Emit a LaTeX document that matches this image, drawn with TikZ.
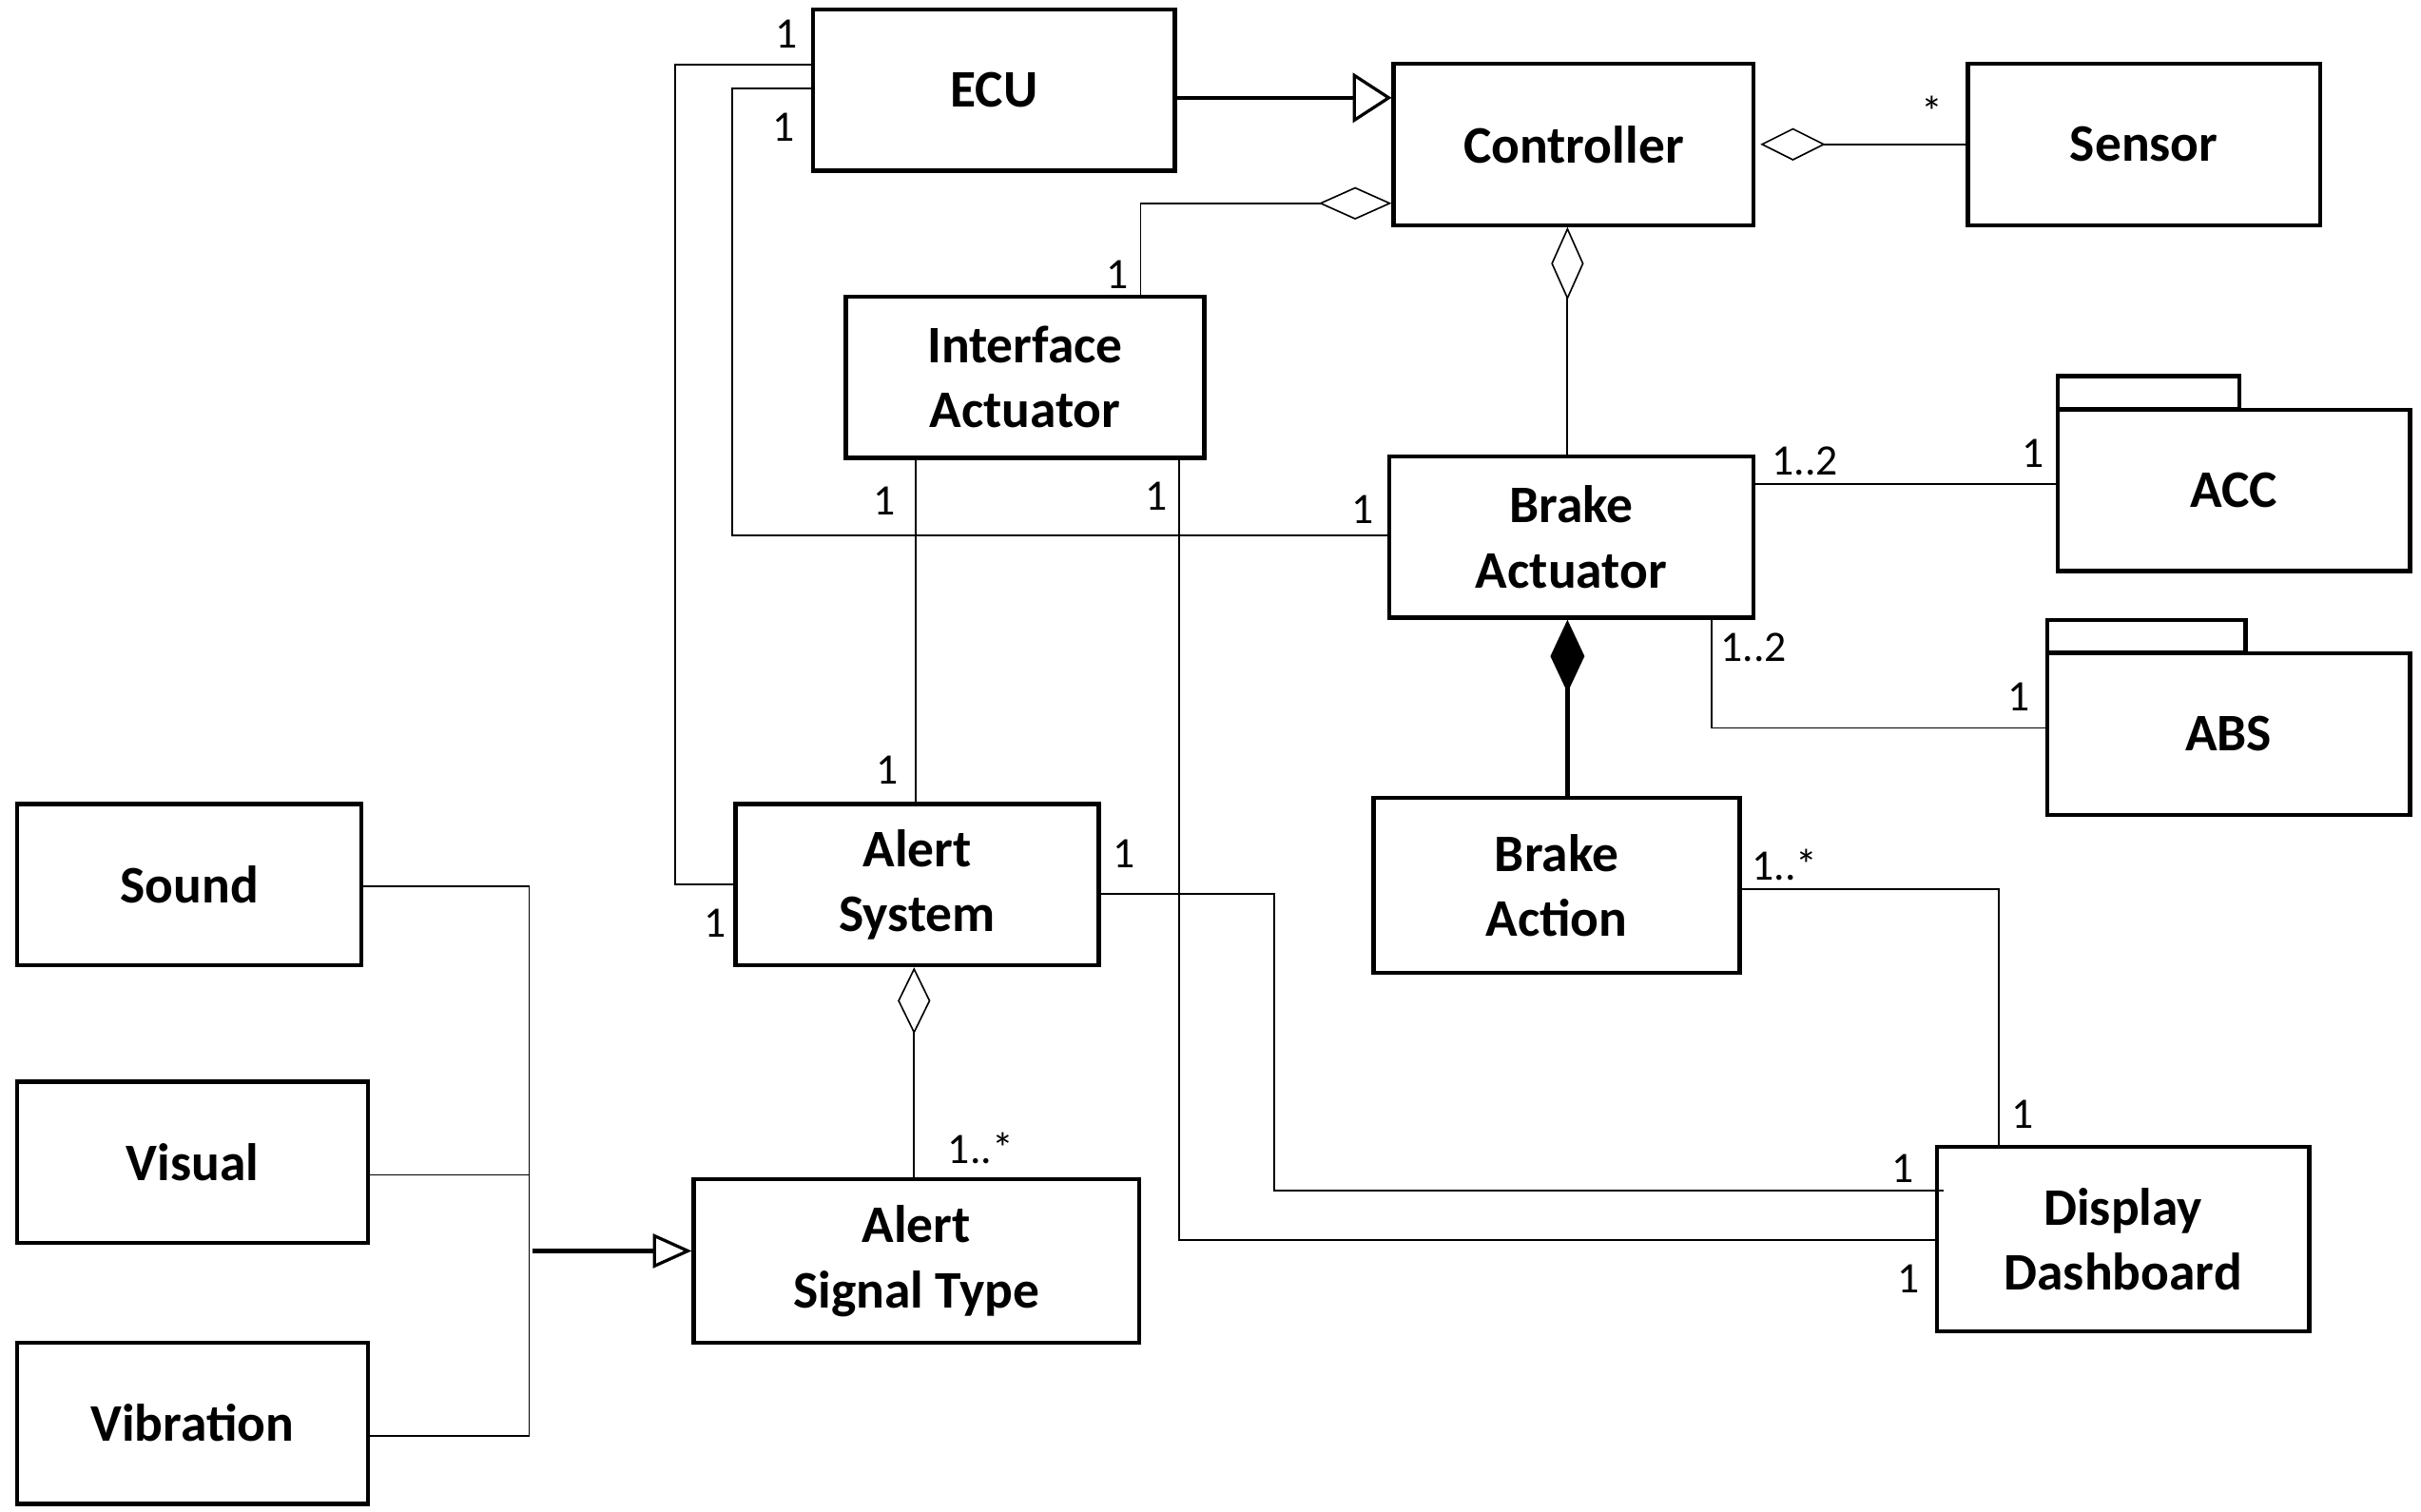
\documentclass[tikz,border=0pt]{standalone}
\usepackage{fontspec}
\setmainfont{Carlito}
\usetikzlibrary{arrows.meta,calc}
\newcommand{\boxfont}{\fontsize{34}{42}\selectfont\bfseries}
\newcommand{\multfont}{\fontsize{28}{30}\selectfont}
\begin{document}
\begin{tikzpicture}[x=1pt,y=-1pt,
  box/.style={draw, line width=2.6pt, align=center, inner sep=0pt, font=\boxfont},
  tabbox/.style={draw, line width=2.6pt, inner sep=0pt},
  assoc/.style={line width=1.1pt},
  genl/.style={line width=2.6pt, -{Triangle[open,length=25pt,width=#1,line width=2pt]}},
  aggr/.style={line width=1.1pt, -{Diamond[open,length=#1,width=21pt,line width=1pt]}},
  comp/.style={line width=2.6pt, -{Diamond[length=47pt,width=22pt]}},
  mult/.style={font=\multfont, inner sep=0pt}]
\useasboundingbox (0,0) rectangle (1560,974.2);

% classes
\node[box, minimum width=233pt, minimum height=104pt] (ecu) at (640.5,58) {ECU};
\node[box, minimum width=232pt, minimum height=104pt] (ctrl) at (1014,93) {Controller};
\node[box, minimum width=227pt, minimum height=104pt] (sensor) at (1381.5,93) {Sensor};
\node[box, minimum width=231pt, minimum height=104pt] (ia) at (660.5,243) {Interface\\Actuator};
\node[box, minimum width=235pt, minimum height=104pt] (ba) at (1012.5,346) {Brake\\Actuator};
\node[box, minimum width=227pt, minimum height=104pt] (acc) at (1439.5,316) {ACC};
\node[tabbox, minimum width=117pt, minimum height=21pt, anchor=south west] (acctab) at ([yshift=-2pt]acc.north west) {};
\node[box, minimum width=234pt, minimum height=104pt] (abs) at (1436,473) {ABS};
\node[tabbox, minimum width=128pt, minimum height=21pt, anchor=south west] (abstab) at ([yshift=-2pt]abs.north west) {};
\node[box, minimum width=234pt, minimum height=104pt] (as) at (591,570) {Alert\\System};
\node[box, minimum width=236pt, minimum height=113pt] (bact) at (1003,570.5) {Brake\\Action};
\node[box, minimum width=222pt, minimum height=104pt] (sound) at (122,570) {Sound};
\node[box, minimum width=226pt, minimum height=104pt] (visual) at (124,749) {Visual};
\node[box, minimum width=226pt, minimum height=104pt] (vib) at (124,917) {Vibration};
\node[box, minimum width=287pt, minimum height=105pt] (ast) at (590.5,812.5) {Alert\\Signal Type};
\node[box, minimum width=240pt, minimum height=119pt] (dd) at (1368,798.5) {Display\\Dashboard};

% ECU generalizes Controller
\draw[genl=32pt] (ecu.east |- 0,63) -- (ctrl.west |- 0,63);

% Sensor aggregated in Controller
\draw[aggr=42pt] (sensor.west) -- ([xshift=3pt]ctrl.east);
\node[mult] at (1245,72) {*};

% Interface Actuator aggregated in Controller
\draw[aggr=47pt] (735,0 |- ia.north) |- (ctrl.west |- 0,131);
\node[mult] at (720,177) {1};

% Brake Actuator aggregated in Controller
\draw[aggr=47pt] (1010,0 |- ba.north) -- (1010,0 |- ctrl.south);

% ECU -- Brake Actuator
\coordinate (c1) at (472,345);
\draw[assoc] (ecu.west |- 0,57) -| (c1) -- (ba.west |- c1);
\node[mult] at (505,82) {1};
\node[mult] at (878,328) {1};

% ECU -- Alert System
\coordinate (c2) at (435,570);
\draw[assoc] (ecu.west |- 0,41.5) -| (c2) -- (as.west |- c2);
\node[mult] at (507,22) {1};
\node[mult] at (461,595) {1};

% Interface Actuator -- Alert System
\draw[assoc] (590,0 |- ia.south) -- (590,0 |- as.north);
\node[mult] at (570,323) {1};
\node[mult] at (572,496) {1};

% Interface Actuator -- Display Dashboard
\draw[assoc] (760,0 |- ia.south) |- (dd.west |- 0,799);
\node[mult] at (745,320) {1};
\node[mult] at (1230,824) {1};

% Alert System -- Display Dashboard
\coordinate (c3) at (821,576);
\draw[assoc] (as.east |- c3) -- (c3) |- ([xshift=6pt]dd.west |- 0,767);
\node[mult] at (724,550) {1};
\node[mult] at (1226,753) {1};

% Brake Action -- Display Dashboard
\coordinate (c4) at (1288,573);
\draw[assoc] (bact.east |- c4) -- (c4) -- (c4 |- dd.north);
\node[mult] at (1150,557) {1..*};
\node[mult] at (1303,718) {1};

% Brake Action composed in Brake Actuator
\draw[comp] (1010,0 |- bact.north) -- (1010,0 |- ba.south);

% Brake Actuator -- ACC
\draw[assoc] (ba.east |- 0,312) -- (acc.west |- 0,312);
\node[mult] at (1163,297) {1..2};
\node[mult] at (1310,292) {1};

% Brake Actuator -- ABS
\draw[assoc] (1103,0 |- ba.south) |- (abs.west |- 0,469);
\node[mult] at (1130,417) {1..2};
\node[mult] at (1301,449) {1};

% Alert Signal Type aggregated in Alert System
\draw[aggr=43pt] (589,0 |- ast.north) -- (589,0 |- as.south);
\node[mult] at (632,740) {1..*};

% Sound / Visual / Vibration generalize Alert Signal Type
\coordinate (jtop) at (341,571);
\coordinate (jmid) at (341,757);
\coordinate (jbot) at (341,925);
\coordinate (jarr) at (343,806);
\draw[assoc] (sound.east |- jtop) -- (jtop) -- (jbot);
\draw[assoc] (visual.east |- jmid) -- (jmid);
\draw[assoc] (vib.east |- jbot) -- (jbot);
\draw[genl=22pt] (jarr) -- (ast.west |- jarr);
\end{tikzpicture}
\end{document}
